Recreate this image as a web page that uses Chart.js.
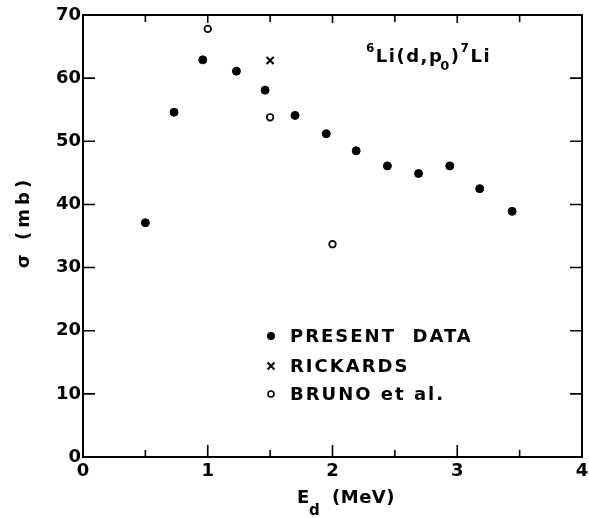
<!DOCTYPE html>
<html>
<head>
<meta charset="utf-8">
<script src="https://cdn.jsdelivr.net/npm/chart.js@4/dist/chart.umd.min.js"></script>
<style>
  html, body { margin: 0; padding: 0; background: #fff; }
  #wrap { width: 589px; height: 518px; }
</style>
</head>
<body>
<div id="wrap"><canvas id="chart" width="589" height="518"></canvas></div>
<script>
'use strict';

// Values (E_d in MeV, sigma in mb)
const presentX  = [0.50, 0.73, 0.96, 1.23, 1.46, 1.70, 1.95, 2.19, 2.44, 2.69, 2.94, 3.18, 3.44];
const presentY  = [37.1, 54.6, 62.9, 61.1, 58.1, 54.1, 51.2, 48.5, 46.1, 44.9, 46.1, 42.5, 38.9];
const rickardsX = [1.5];
const rickardsY = [62.8];
const brunoX    = [1.0, 1.5, 2.0];
const brunoY    = [67.8, 53.8, 33.7];

const xTicks      = [0, 1, 2, 3, 4];
const xMinorTicks = [0.5, 1.5, 2.5, 3.5];
const yTicks      = [0, 10, 20, 30, 40, 50, 60, 70];

const legendLabels = ['PRESENT  DATA', 'RICKARDS', 'BRUNO et al.'];

const FONT = '"DejaVu Sans", sans-serif';

const toPoints = (xs, ys) => xs.map((x, i) => ({ x, y: ys[i] }));

/* ── frame, inward ticks, titles, legend ─────────────────────── */
const decorPlugin = {
  id: 'decor',
  afterDraw(chart) {
    const { ctx, chartArea: a, scales: { x, y } } = chart;
    ctx.save();
    ctx.strokeStyle = '#000';
    ctx.fillStyle = '#000';

    // frame
    ctx.lineWidth = 2;
    ctx.strokeRect(a.left, a.top, a.right - a.left, a.bottom - a.top);

    // ticks
    ctx.lineWidth = 1.6;
    ctx.beginPath();
    xTicks.slice(1, -1).forEach(v => {
      const px = x.getPixelForValue(v);
      ctx.moveTo(px, a.bottom); ctx.lineTo(px, a.bottom - 12);
      ctx.moveTo(px, a.top);    ctx.lineTo(px, a.top + 8);
    });
    xMinorTicks.forEach(v => {
      const px = x.getPixelForValue(v);
      ctx.moveTo(px, a.bottom); ctx.lineTo(px, a.bottom - 7);
      ctx.moveTo(px, a.top);    ctx.lineTo(px, a.top + 7);
    });
    yTicks.slice(1, -1).forEach(v => {
      const py = y.getPixelForValue(v);
      ctx.moveTo(a.left, py);  ctx.lineTo(a.left + 12, py);
      ctx.moveTo(a.right, py); ctx.lineTo(a.right - 12, py);
    });
    ctx.stroke();

    // reaction label 6Li(d,p0)7Li
    ctx.textBaseline = 'alphabetic';
    ctx.textAlign = 'left';
    ctx.letterSpacing = '1.5px';
    let cx = 366;
    const base = 62;
    const piece = (txt, size, dy) => {
      ctx.font = `bold ${size}px ${FONT}`;
      ctx.fillText(txt, cx, base + dy);
      cx += ctx.measureText(txt).width;
    };
    piece('6', 12, -10);
    piece('Li(d,p', 18, 0);
    cx -= 3;
    piece('0', 13, 8);
    piece(')', 18, 0);
    piece('7', 12, -10);
    piece('Li', 18, 0);

    // x axis title E_d (MeV)
    ctx.letterSpacing = '0.5px';
    ctx.font = `bold 18px ${FONT}`;
    ctx.fillText('E', 297, 503);
    ctx.font = `bold 15px ${FONT}`;
    ctx.fillText('d', 309, 515);
    ctx.font = `bold 18px ${FONT}`;
    ctx.fillText('(MeV)', 332, 503);

    // y axis title sigma (mb)
    ctx.save();
    ctx.translate(29, 222);
    ctx.rotate(-Math.PI / 2);
    ctx.textAlign = 'center';
    ctx.letterSpacing = '4px';
    ctx.font = `bold 18px ${FONT}`;
    ctx.fillText('\u03c3 (mb)', 0, 0);
    ctx.restore();

    // legend
    const rows = [336, 366, 394];
    const mx = 271;
    ctx.letterSpacing = '2px';
    ctx.font = `bold 18px ${FONT}`;
    ctx.textBaseline = 'middle';
    legendLabels.forEach((lbl, i) => ctx.fillText(lbl, 290, rows[i] + 1));
    ctx.beginPath();
    ctx.arc(mx, rows[0], 4, 0, Math.PI * 2);
    ctx.fill();
    ctx.lineWidth = 2;
    ctx.beginPath();
    ctx.moveTo(mx - 3.5, rows[1] - 3.5); ctx.lineTo(mx + 3.5, rows[1] + 3.5);
    ctx.moveTo(mx + 3.5, rows[1] - 3.5); ctx.lineTo(mx - 3.5, rows[1] + 3.5);
    ctx.stroke();
    ctx.lineWidth = 1.6;
    ctx.beginPath();
    ctx.arc(mx, rows[2], 3, 0, Math.PI * 2);
    ctx.stroke();

    ctx.restore();
  },
};

new Chart(document.getElementById('chart'), {
  type: 'scatter',
  data: {
    datasets: [
      {
        label: 'PRESENT DATA',
        data: toPoints(presentX, presentY),
        pointStyle: 'circle',
        pointRadius: 4,
        backgroundColor: '#000',
        borderColor: '#000',
        borderWidth: 1,
      },
      {
        label: 'RICKARDS',
        data: toPoints(rickardsX, rickardsY),
        pointStyle: 'crossRot',
        pointRadius: 5,
        borderColor: '#000',
        borderWidth: 2,
      },
      {
        label: 'BRUNO et al.',
        data: toPoints(brunoX, brunoY),
        pointStyle: 'circle',
        pointRadius: 3.3,
        backgroundColor: '#fff',
        borderColor: '#000',
        borderWidth: 1.7,
      },
    ],
  },
  options: {
    responsive: false,
    animation: false,
    layout: { padding: { top: 15, right: 1, left: 0, bottom: 0 } },
    plugins: {
      legend: { display: false },
      tooltip: { enabled: false },
    },
    scales: {
      x: {
        type: 'linear',
        min: 0,
        max: 4,
        afterBuildTicks: s => { s.ticks = xTicks.map(v => ({ value: v })); },
        afterFit: s => { s.height = 61; s.paddingLeft = 0; s.paddingRight = 0; },
        grid: { display: false, drawTicks: false },
        border: { display: false },
        ticks: {
          color: '#000',
          padding: 4,
          font: { family: FONT, size: 18, weight: 'bold' },
          maxRotation: 0,
        },
      },
      y: {
        type: 'linear',
        min: 0,
        max: 70,
        afterBuildTicks: s => { s.ticks = yTicks.map(v => ({ value: v })); },
        afterFit: s => { s.width = 83; s.paddingTop = 0; s.paddingBottom = 0; },
        grid: { display: false, drawTicks: false },
        border: { display: false },
        ticks: {
          color: '#000',
          padding: 2,
          font: { family: FONT, size: 18, weight: 'bold' },
        },
      },
    },
  },
  plugins: [decorPlugin],
});
</script>
</body>
</html>
